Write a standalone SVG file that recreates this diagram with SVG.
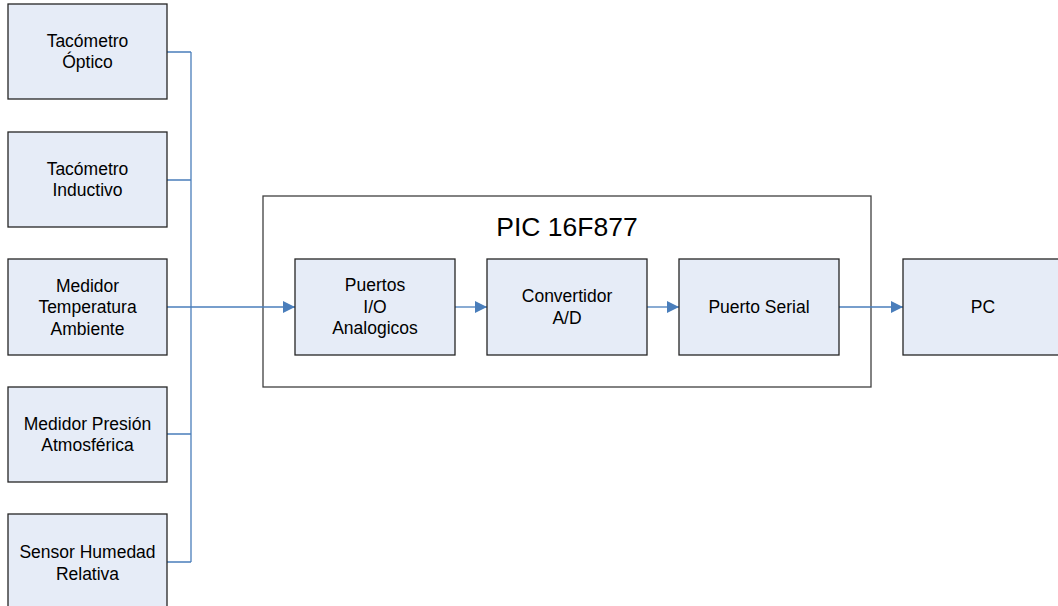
<svg xmlns="http://www.w3.org/2000/svg" width="1058" height="606" viewBox="0 0 1058 606">
<style>
.box{fill:#E6ECF7;stroke:#262626;stroke-width:1.3}
.outer{fill:#FFFFFF;stroke:#404040;stroke-width:1.3}
.t{font-family:"Liberation Sans",Arial,sans-serif;font-size:17.5px;fill:#000;text-anchor:middle}
.title{font-family:"Liberation Sans",Arial,sans-serif;font-size:26.5px;fill:#000;text-anchor:middle}
.c{fill:none;stroke:#4A7EBB;stroke-width:1.3}
</style>
<defs>
<marker id="arr" viewBox="0 0 12 12" refX="12" refY="6" markerWidth="12" markerHeight="12" markerUnits="userSpaceOnUse" orient="auto">
<path d="M0,0 L12,6 L0,12 Z" fill="#4A7EBB"/>
</marker>
</defs>
<rect width="1058" height="606" fill="#FFFFFF"/>
<g id="pic">
<rect class="outer" x="263" y="196" width="608" height="191"/>
<text class="title" x="567" y="236">PIC 16F877</text>
</g>
<g id="connectors">
<path class="c" d="M167,52 H191 M167,180 H191 M167,434 H191 M167,562 H191 M191,52 V562"/>
<path class="c" d="M167,307 H295" marker-end="url(#arr)"/>
<path class="c" d="M455,307 H487" marker-end="url(#arr)"/>
<path class="c" d="M647,307 H679" marker-end="url(#arr)"/>
<path class="c" d="M839,307 H903" marker-end="url(#arr)"/>
</g>
<g id="tacometro-optico">
<rect class="box" x="8" y="4" width="159" height="95"/>
<text class="t" x="87.5" y="46.5">Tacómetro</text>
<text class="t" x="87.5" y="68">Óptico</text>
</g>
<g id="tacometro-inductivo">
<rect class="box" x="8" y="132" width="159" height="95"/>
<text class="t" x="87.5" y="174.5">Tacómetro</text>
<text class="t" x="87.5" y="196">Inductivo</text>
</g>
<g id="medidor-temperatura">
<rect class="box" x="8" y="259" width="159" height="96"/>
<text class="t" x="87.5" y="291.5">Medidor</text>
<text class="t" x="87.5" y="313">Temperatura</text>
<text class="t" x="87.5" y="334.5">Ambiente</text>
</g>
<g id="medidor-presion">
<rect class="box" x="8" y="387" width="159" height="95"/>
<text class="t" x="87.5" y="429.5">Medidor Presión</text>
<text class="t" x="87.5" y="451">Atmosférica</text>
</g>
<g id="sensor-humedad">
<rect class="box" x="8" y="514" width="159" height="97"/>
<text class="t" x="87.5" y="558">Sensor Humedad</text>
<text class="t" x="87.5" y="579.5">Relativa</text>
</g>
<g id="puertos-io">
<rect class="box" x="295" y="259" width="160" height="96"/>
<text class="t" x="375" y="291">Puertos</text>
<text class="t" x="375" y="312.5">I/O</text>
<text class="t" x="375" y="334">Analogicos</text>
</g>
<g id="convertidor">
<rect class="box" x="487" y="259" width="160" height="96"/>
<text class="t" x="567" y="302">Convertidor</text>
<text class="t" x="567" y="323.5">A/D</text>
</g>
<g id="puerto-serial">
<rect class="box" x="679" y="259" width="160" height="96"/>
<text class="t" x="759" y="313">Puerto Serial</text>
</g>
<g id="pc">
<rect class="box" x="903" y="259" width="160" height="96"/>
<text class="t" x="983" y="313">PC</text>
</g>
</svg>
